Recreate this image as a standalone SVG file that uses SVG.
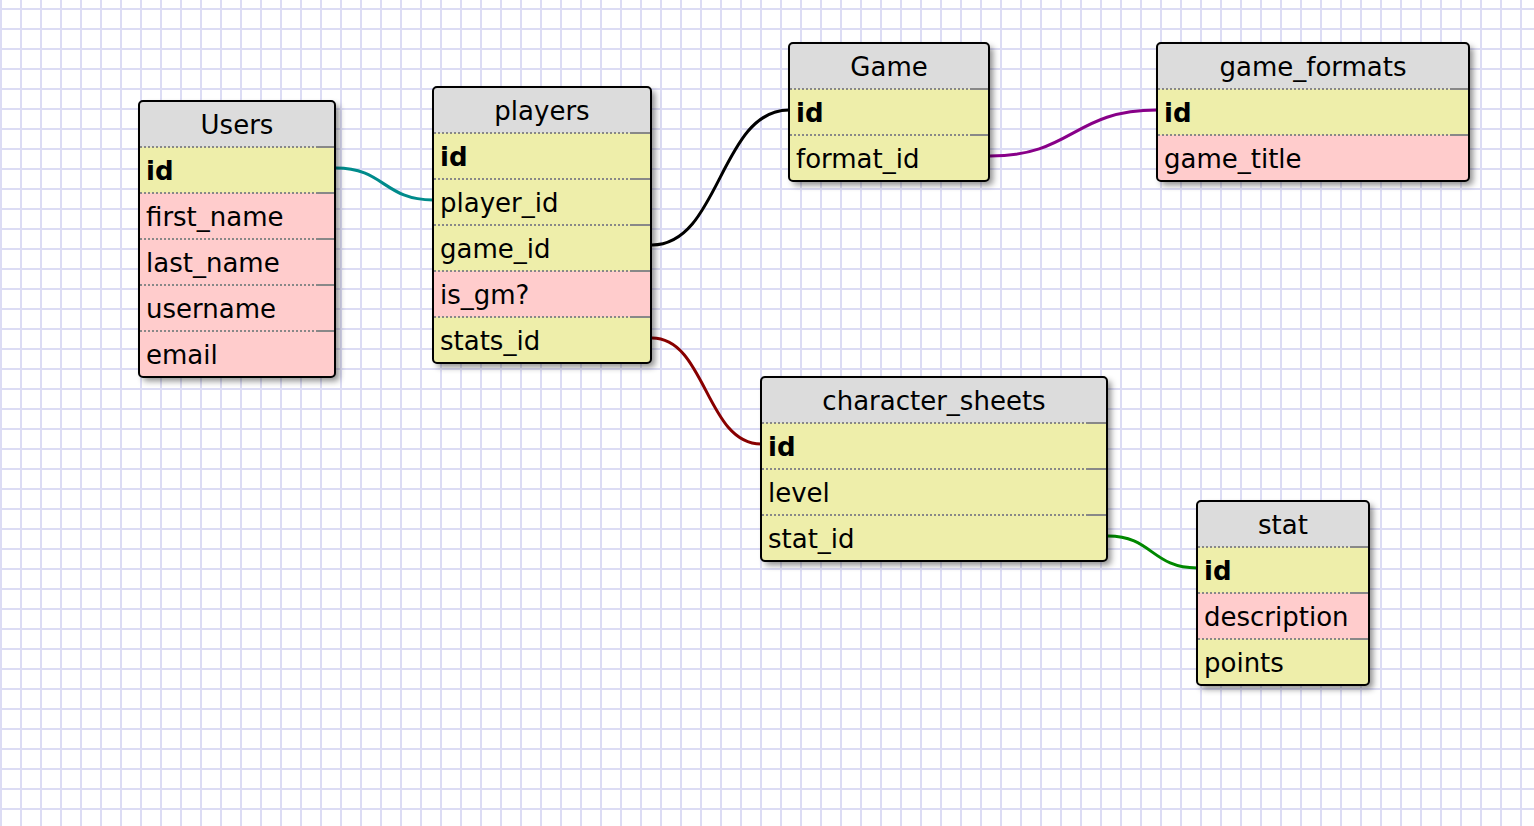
<svg xmlns="http://www.w3.org/2000/svg" width="1534" height="826" viewBox="0 0 1534 826">
<defs>
<pattern id="grid" patternUnits="userSpaceOnUse" x="0" y="8" width="20" height="20">
<rect width="20" height="20" fill="#ffffff"/>
<line x1="1" y1="0" x2="1" y2="20" stroke="#dcdcf4" stroke-width="2"/>
<line x1="0" y1="1" x2="20" y2="1" stroke="#dcdcf4" stroke-width="2"/>
</pattern>
<filter id="shadow" x="-10%" y="-10%" width="130%" height="130%">
<feDropShadow dx="4" dy="4" stdDeviation="3" flood-color="#000" flood-opacity="0.45"/>
</filter>
<clipPath id="cUsers"><rect x="139" y="101" width="196" height="276" rx="4"/></clipPath>
<clipPath id="cPlayers"><rect x="433" y="87" width="218" height="276" rx="4"/></clipPath>
<clipPath id="cGame"><rect x="789" y="43" width="200" height="138" rx="4"/></clipPath>
<clipPath id="cFormats"><rect x="1157" y="43" width="312" height="138" rx="4"/></clipPath>
<clipPath id="cSheets"><rect x="761" y="377" width="346" height="184" rx="4"/></clipPath>
<clipPath id="cStat"><rect x="1197" y="501" width="172" height="184" rx="4"/></clipPath>
</defs>
<style>
text{font-family:"DejaVu Sans","Liberation Sans",sans-serif;font-size:26px;fill:#000}
.title{text-anchor:middle}
.pk{font-weight:bold}
.hd{fill:#dcdcdc}
.y{fill:#eeeeaa}
.p{fill:#ffcccc}
.bg{fill:#dcdcdc;filter:url(#shadow)}
.border{fill:none;stroke:#000;stroke-width:2}
.dot{stroke:#888;stroke-width:2;stroke-dasharray:2,2}
.sol{stroke:#888;stroke-width:2}
.conn{fill:none;stroke-width:3}
</style>
<rect width="1534" height="826" fill="url(#grid)"/>

<g id="connectors">
<path class="conn" stroke="#008b8b" d="M336 168 C384 168 384 200 433 200"/>
<path class="conn" stroke="#000000" d="M652 245 C720 245 720 110 789 110"/>
<path class="conn" stroke="#880088" d="M990 156 C1073 156 1073 110 1157 110"/>
<path class="conn" stroke="#880000" d="M652 338 C706 338 706 444 761 444"/>
<path class="conn" stroke="#008800" d="M1108 536 C1152 536 1152 568 1197 568"/>
</g>

<g id="Users">
<rect class="bg" x="139" y="101" width="196" height="276" rx="4"/>
<g clip-path="url(#cUsers)">
<rect class="hd" x="139" y="101" width="196" height="46"/>
<rect class="y" x="139" y="147" width="196" height="46"/>
<rect class="p" x="139" y="193" width="196" height="46"/>
<rect class="p" x="139" y="239" width="196" height="46"/>
<rect class="p" x="139" y="285" width="196" height="46"/>
<rect class="p" x="139" y="331" width="196" height="46"/>
</g>
<g>
<line class="dot" x1="140" y1="147" x2="316" y2="147"/><line class="sol" x1="316" y1="147" x2="334" y2="147"/>
<line class="dot" x1="140" y1="193" x2="316" y2="193"/><line class="sol" x1="316" y1="193" x2="334" y2="193"/>
<line class="dot" x1="140" y1="239" x2="316" y2="239"/><line class="sol" x1="316" y1="239" x2="334" y2="239"/>
<line class="dot" x1="140" y1="285" x2="316" y2="285"/><line class="sol" x1="316" y1="285" x2="334" y2="285"/>
<line class="dot" x1="140" y1="331" x2="316" y2="331"/><line class="sol" x1="316" y1="331" x2="334" y2="331"/>
</g>
<rect class="border" x="139" y="101" width="196" height="276" rx="4"/>
<text class="title" x="237" y="134">Users</text>
<text class="pk" x="146" y="180">id</text>
<text x="146" y="226">first_name</text>
<text x="146" y="272">last_name</text>
<text x="146" y="318">username</text>
<text x="146" y="364">email</text>
</g>

<g id="players">
<rect class="bg" x="433" y="87" width="218" height="276" rx="4"/>
<g clip-path="url(#cPlayers)">
<rect class="hd" x="433" y="87" width="218" height="46"/>
<rect class="y" x="433" y="133" width="218" height="46"/>
<rect class="y" x="433" y="179" width="218" height="46"/>
<rect class="y" x="433" y="225" width="218" height="46"/>
<rect class="p" x="433" y="271" width="218" height="46"/>
<rect class="y" x="433" y="317" width="218" height="46"/>
</g>
<g>
<line class="dot" x1="434" y1="133" x2="632" y2="133"/><line class="sol" x1="632" y1="133" x2="650" y2="133"/>
<line class="dot" x1="434" y1="179" x2="632" y2="179"/><line class="sol" x1="632" y1="179" x2="650" y2="179"/>
<line class="dot" x1="434" y1="225" x2="632" y2="225"/><line class="sol" x1="632" y1="225" x2="650" y2="225"/>
<line class="dot" x1="434" y1="271" x2="632" y2="271"/><line class="sol" x1="632" y1="271" x2="650" y2="271"/>
<line class="dot" x1="434" y1="317" x2="632" y2="317"/><line class="sol" x1="632" y1="317" x2="650" y2="317"/>
</g>
<rect class="border" x="433" y="87" width="218" height="276" rx="4"/>
<text class="title" x="542" y="120">players</text>
<text class="pk" x="440" y="166">id</text>
<text x="440" y="212">player_id</text>
<text x="440" y="258">game_id</text>
<text x="440" y="304">is_gm?</text>
<text x="440" y="350">stats_id</text>
</g>

<g id="Game">
<rect class="bg" x="789" y="43" width="200" height="138" rx="4"/>
<g clip-path="url(#cGame)">
<rect class="hd" x="789" y="43" width="200" height="46"/>
<rect class="y" x="789" y="89" width="200" height="46"/>
<rect class="y" x="789" y="135" width="200" height="46"/>
</g>
<g>
<line class="dot" x1="790" y1="89" x2="970" y2="89"/><line class="sol" x1="970" y1="89" x2="988" y2="89"/>
<line class="dot" x1="790" y1="135" x2="970" y2="135"/><line class="sol" x1="970" y1="135" x2="988" y2="135"/>
</g>
<rect class="border" x="789" y="43" width="200" height="138" rx="4"/>
<text class="title" x="889" y="76">Game</text>
<text class="pk" x="796" y="122">id</text>
<text x="796" y="168">format_id</text>
</g>

<g id="game_formats">
<rect class="bg" x="1157" y="43" width="312" height="138" rx="4"/>
<g clip-path="url(#cFormats)">
<rect class="hd" x="1157" y="43" width="312" height="46"/>
<rect class="y" x="1157" y="89" width="312" height="46"/>
<rect class="p" x="1157" y="135" width="312" height="46"/>
</g>
<g>
<line class="dot" x1="1158" y1="89" x2="1450" y2="89"/><line class="sol" x1="1450" y1="89" x2="1468" y2="89"/>
<line class="dot" x1="1158" y1="135" x2="1450" y2="135"/><line class="sol" x1="1450" y1="135" x2="1468" y2="135"/>
</g>
<rect class="border" x="1157" y="43" width="312" height="138" rx="4"/>
<text class="title" x="1313" y="76">game_formats</text>
<text class="pk" x="1164" y="122">id</text>
<text x="1164" y="168">game_title</text>
</g>

<g id="character_sheets">
<rect class="bg" x="761" y="377" width="346" height="184" rx="4"/>
<g clip-path="url(#cSheets)">
<rect class="hd" x="761" y="377" width="346" height="46"/>
<rect class="y" x="761" y="423" width="346" height="46"/>
<rect class="y" x="761" y="469" width="346" height="46"/>
<rect class="y" x="761" y="515" width="346" height="46"/>
</g>
<g>
<line class="dot" x1="762" y1="423" x2="1088" y2="423"/><line class="sol" x1="1088" y1="423" x2="1106" y2="423"/>
<line class="dot" x1="762" y1="469" x2="1088" y2="469"/><line class="sol" x1="1088" y1="469" x2="1106" y2="469"/>
<line class="dot" x1="762" y1="515" x2="1088" y2="515"/><line class="sol" x1="1088" y1="515" x2="1106" y2="515"/>
</g>
<rect class="border" x="761" y="377" width="346" height="184" rx="4"/>
<text class="title" x="934" y="410">character_sheets</text>
<text class="pk" x="768" y="456">id</text>
<text x="768" y="502">level</text>
<text x="768" y="548">stat_id</text>
</g>

<g id="stat">
<rect class="bg" x="1197" y="501" width="172" height="184" rx="4"/>
<g clip-path="url(#cStat)">
<rect class="hd" x="1197" y="501" width="172" height="46"/>
<rect class="y" x="1197" y="547" width="172" height="46"/>
<rect class="p" x="1197" y="593" width="172" height="46"/>
<rect class="y" x="1197" y="639" width="172" height="46"/>
</g>
<g>
<line class="dot" x1="1198" y1="547" x2="1350" y2="547"/><line class="sol" x1="1350" y1="547" x2="1368" y2="547"/>
<line class="dot" x1="1198" y1="593" x2="1350" y2="593"/><line class="sol" x1="1350" y1="593" x2="1368" y2="593"/>
<line class="dot" x1="1198" y1="639" x2="1350" y2="639"/><line class="sol" x1="1350" y1="639" x2="1368" y2="639"/>
</g>
<rect class="border" x="1197" y="501" width="172" height="184" rx="4"/>
<text class="title" x="1283" y="534">stat</text>
<text class="pk" x="1204" y="580">id</text>
<text x="1204" y="626">description</text>
<text x="1204" y="672">points</text>
</g>
</svg>
